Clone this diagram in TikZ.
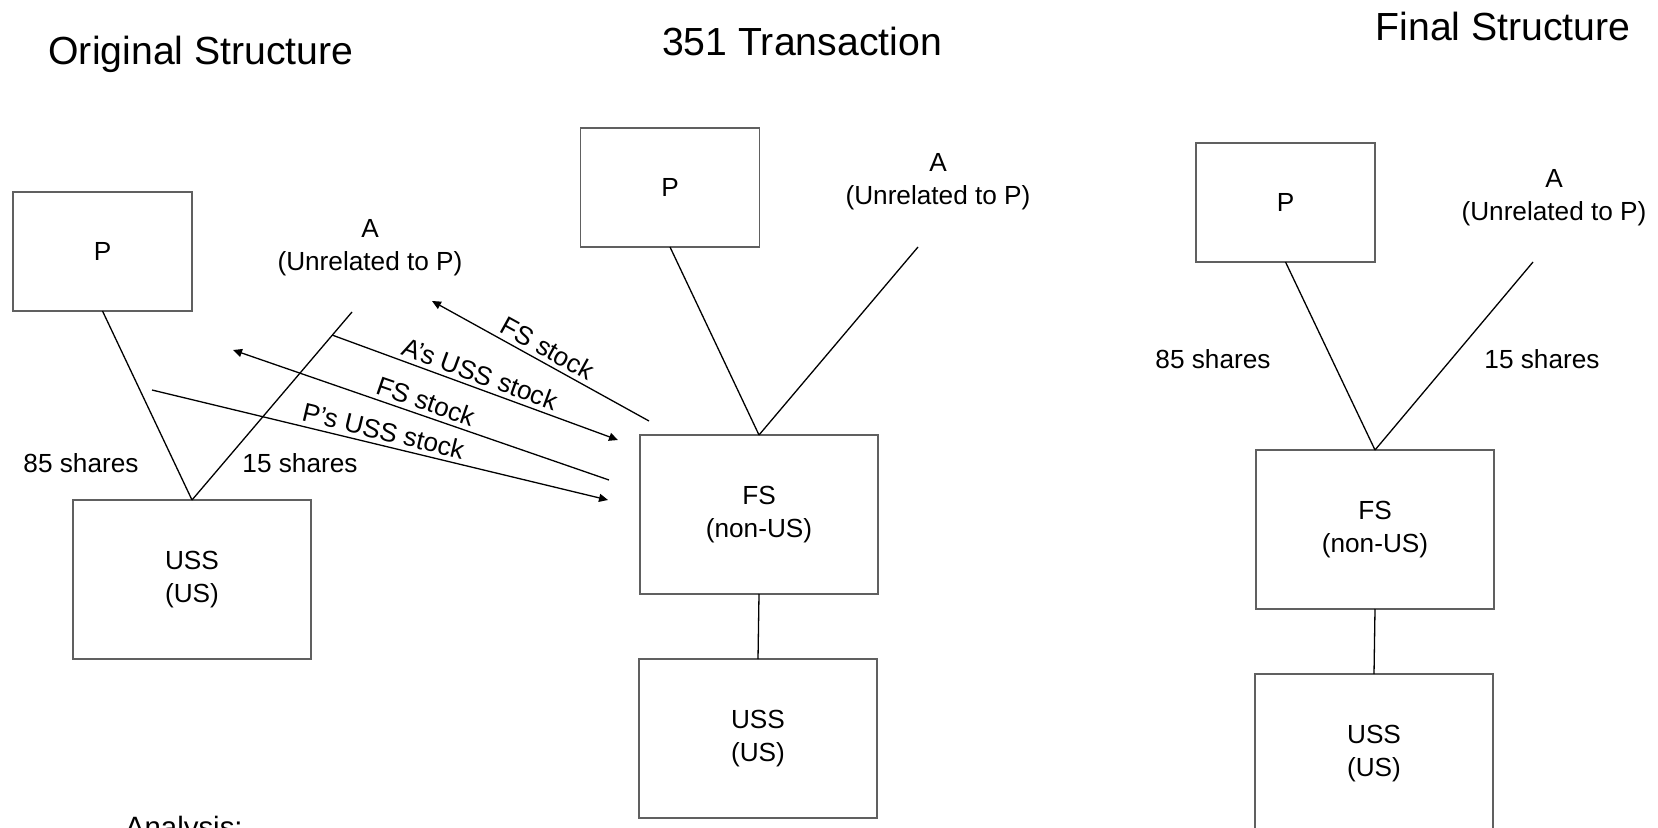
\documentclass[tikz,border=0pt]{standalone}
\usepackage{fontspec}
\setmainfont{Liberation Sans}
\usetikzlibrary{arrows.meta}
\definecolor{boxgray}{RGB}{96,96,96}
\begin{document}
\begin{tikzpicture}[x=0.5pt,y=-0.5pt,
  every node/.style={inner sep=0pt, outer sep=0pt},
  body/.style={font=\fontsize{13.1pt}{16.5pt}\selectfont, align=center},
  title/.style={font=\fontsize{19.6pt}{23pt}\selectfont, anchor=base},
  smallbox/.style={body, draw=boxgray, line width=0.6pt, minimum width=89.5pt, minimum height=59.5pt},
  bigbox/.style={body, draw=boxgray, line width=0.6pt, minimum width=119pt, minimum height=79.5pt},
  link/.style={draw=black, line width=0.65pt},
  flow/.style={link, -{Triangle[length=4.5pt,width=4pt]}},
  backflow/.style={link, {Triangle[length=4.5pt,width=4pt]}-},
  flowlabel/.style={body, midway, sloped, above, inner sep=2.5pt}]

\fill[white] (0,0) rectangle (1658,828);
\useasboundingbox (0,0) rectangle (1658,828);

% headings
\node[title] (hOrig)  at (201,65) {Original Structure};
\node[title] (hTrans) at (802,56) {351 Transaction};
\node[title] (hFinal) at (1503,41) {Final Structure};

% ---------- original structure ----------
\node[smallbox] (oP)   at (102.5,251.5) {P};
\node[bigbox]   (oUSS) at (192,579.5) {USS\\(US)};
\node[body]     (oA)   at (370,248) {A\\(Unrelated to P)};
\coordinate (oAend) at (352,312);
\draw[link] (oP.south) -- (oUSS.north);
\draw[link] (oAend) -- (oUSS.north);
\node[body, anchor=base] (o85) at (81,472) {85 shares};
\node[body, anchor=base] (o15) at (300,472) {15 shares};

% ---------- 351 transaction ----------
\node[smallbox] (mP)   at (670,187.5) {P};
\node[bigbox]   (mFS)  at (759,514.5) {FS\\(non-US)};
\node[bigbox]   (mUSS) at (758,738.5) {USS\\(US)};
\node[body]     (mA)   at (938,182) {A\\(Unrelated to P)};
\coordinate (mAend) at (918,247);
\draw[link] (mP.south) -- (mFS.north);
\draw[link] (mAend) -- (mFS.north);
\draw[link] (mFS.south) -- (mUSS.north);

% exchanges
\coordinate (fsAhead)  at (432,301);
\coordinate (fsAtail)  at (649,421);
\coordinate (ussAtail) at (332,335);
\coordinate (ussAhead) at (618,440);
\coordinate (fsPhead)  at (233,350);
\coordinate (fsPtail)  at (609,480);
\coordinate (ussPtail) at (152,390);
\coordinate (ussPhead) at (608,500);
\draw[backflow] (fsAhead) -- (fsAtail) node[flowlabel] (lFSa) {FS stock};
\draw[flow] (ussAtail) -- (ussAhead) node[flowlabel] (lUSSa) {A’s USS stock};
\draw[backflow] (fsPhead) -- (fsPtail) node[flowlabel] (lFSp) {FS stock};
\draw[flow] (ussPtail) -- (ussPhead) node[flowlabel] (lUSSp) {P’s USS stock};

% ---------- final structure ----------
\node[smallbox] (fP)   at (1285.5,202.5) {P};
\node[bigbox]   (fFS)  at (1375,529.5) {FS\\(non-US)};
\node[bigbox]   (fUSS) at (1374,753.5) {USS\\(US)};
\node[body]     (fA)   at (1554,198) {A\\(Unrelated to P)};
\coordinate (fAend) at (1533,262);
\draw[link] (fP.south) -- (fFS.north);
\draw[link] (fAend) -- (fFS.north);
\draw[link] (fFS.south) -- (fUSS.north);
\node[body, anchor=base] (f85) at (1213,369) {85 shares};
\node[body, anchor=base] (f15) at (1542,369) {15 shares};

% analysis heading
\node[font=\fontsize{14.7pt}{17pt}\selectfont, anchor=base west] (analysis) at (125,837) {Analysis:};
\end{tikzpicture}
\end{document}
